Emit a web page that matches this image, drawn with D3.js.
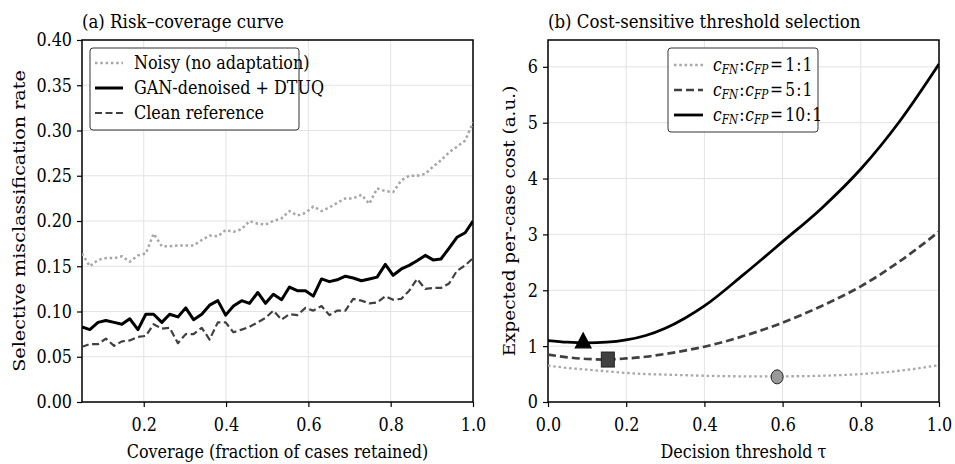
<!DOCTYPE html>
<html><head><meta charset="utf-8">
<script src="https://cdn.jsdelivr.net/npm/d3@7"></script>
<style>body{margin:0;background:#fff}svg{display:block}text{font-family:"DejaVu Serif",serif;fill:#000}</style>
</head><body><svg id="c" width="955" height="464"></svg>
<script>
// ---------- data ----------
const coverage = [0.050,0.069,0.089,0.108,0.128,0.147,0.166,0.186,0.205,0.224,0.244,0.263,0.283,0.302,0.321,0.341,0.360,0.380,0.399,0.418,0.438,0.457,0.477,0.496,0.515,0.535,0.554,0.573,0.593,0.612,0.632,0.651,0.670,0.690,0.709,0.729,0.748,0.767,0.787,0.806,0.826,0.845,0.864,0.884,0.903,0.922,0.942,0.961,0.981,1.000];
const noisyRisk = [0.164,0.150,0.157,0.159,0.159,0.161,0.155,0.162,0.164,0.186,0.172,0.172,0.173,0.173,0.173,0.179,0.184,0.183,0.190,0.188,0.191,0.200,0.197,0.196,0.200,0.203,0.211,0.206,0.209,0.216,0.211,0.215,0.220,0.225,0.225,0.229,0.219,0.236,0.233,0.232,0.245,0.250,0.250,0.252,0.260,0.267,0.276,0.282,0.289,0.309];
const ganRisk = [0.083,0.080,0.088,0.090,0.088,0.086,0.092,0.080,0.097,0.097,0.088,0.097,0.094,0.104,0.091,0.097,0.107,0.112,0.096,0.106,0.112,0.109,0.121,0.109,0.119,0.113,0.127,0.123,0.123,0.117,0.136,0.133,0.135,0.139,0.137,0.134,0.136,0.138,0.152,0.140,0.147,0.151,0.156,0.162,0.157,0.158,0.170,0.182,0.187,0.200];
const cleanRisk = [0.061,0.064,0.064,0.070,0.062,0.067,0.068,0.072,0.073,0.086,0.081,0.082,0.065,0.075,0.075,0.082,0.069,0.088,0.088,0.077,0.080,0.083,0.088,0.093,0.101,0.091,0.097,0.096,0.104,0.101,0.106,0.096,0.101,0.101,0.114,0.112,0.109,0.110,0.117,0.113,0.114,0.123,0.136,0.125,0.126,0.126,0.131,0.145,0.151,0.159];

const tau = [0,0.05,0.1,0.15,0.2,0.25,0.3,0.35,0.4,0.5,0.6,0.7,0.8,0.9,1.0];
const cost1 = [0.65,0.61,0.58,0.55,0.52,0.50,0.49,0.48,0.47,0.46,0.46,0.47,0.50,0.56,0.66];
const cost5 = [0.85,0.80,0.77,0.76,0.78,0.81,0.86,0.92,0.99,1.18,1.42,1.72,2.07,2.52,3.05];
const cost10 = [1.10,1.07,1.06,1.07,1.11,1.19,1.32,1.50,1.72,2.28,2.87,3.47,4.17,5.03,6.05];
const optTau = [0.586,0.153,0.09];
const optCost = [0.45,0.76,1.06];

const leftXTicks = [0.2,0.4,0.6,0.8,1.0];
const leftYTicks = [0,0.05,0.1,0.15,0.2,0.25,0.3,0.35,0.4];
const rightXTicks = [0,0.2,0.4,0.6,0.8,1.0];
const rightYTicks = [0,1,2,3,4,5,6];

// ---------- drawing ----------
const svg = d3.select("#c");
const FS = 16, S = 1.15;

function stretchAt(sel, s){
  s = s || S;
  sel.each(function(){
    const t = d3.select(this);
    const x = +t.attr("x")||0, y = +t.attr("y")||0;
    t.attr("transform",`translate(${x},${y}) scale(1,${s}) translate(${-x},${-y})`);
  });
}

function panel(cfg){
  const g = svg.append("g");
  const x = d3.scaleLinear().domain(cfg.xd).range([cfg.x0,cfg.x1]);
  const y = d3.scaleLinear().domain(cfg.yd).range([cfg.y1,cfg.y0]);
  g.append("g").selectAll("line").data(cfg.xt).join("line")
    .attr("x1",d=>x(d)).attr("x2",d=>x(d)).attr("y1",cfg.y0).attr("y2",cfg.y1)
    .attr("stroke","#e3e3e3").attr("stroke-width",1);
  g.append("g").selectAll("line").data(cfg.yt).join("line")
    .attr("y1",d=>y(d)).attr("y2",d=>y(d)).attr("x1",cfg.x0).attr("x2",cfg.x1)
    .attr("stroke","#e3e3e3").attr("stroke-width",1);
  const ax = g.append("g").attr("transform",`translate(0,${cfg.y1})`)
    .call(d3.axisBottom(x).tickValues(cfg.xt).tickFormat(cfg.xf).tickSize(5).tickPadding(11));
  const ay = g.append("g").attr("transform",`translate(${cfg.x0},0)`)
    .call(d3.axisLeft(y).tickValues(cfg.yt).tickFormat(cfg.yf).tickSize(5).tickPadding(5));
  [ax,ay].forEach(a=>{
    a.select(".domain").remove();
    a.selectAll("line").attr("stroke","#000").attr("stroke-width",1.2);
    a.selectAll("text").attr("font-family","DejaVu Serif").attr("font-size",FS).attr("fill","#000");
  });
  ax.selectAll("text").each(function(){
    const t=d3.select(this); const yy=+t.attr("y");
    t.attr("y",0).attr("transform",`translate(0,${yy}) scale(1,${S})`);
  });
  ay.selectAll("text").attr("transform",`scale(1,${S})`);
  g.append("rect").attr("x",cfg.x0).attr("y",cfg.y0).attr("width",cfg.x1-cfg.x0).attr("height",cfg.y1-cfg.y0)
    .attr("fill","none").attr("stroke","#000").attr("stroke-width",1.5);
  g.append("text").attr("x",cfg.x0).attr("y",28).attr("font-size",16.6).text(cfg.title).call(stretchAt);
  g.append("text").attr("x",(cfg.x0+cfg.x1)/2).attr("y",458).attr("text-anchor","middle").attr("font-size",FS).text(cfg.xlabel).call(stretchAt);
  g.append("text").attr("transform",`translate(${cfg.ylx},${(cfg.y0+cfg.y1)/2}) scale(1,${cfg.ys}) rotate(-90)`)
    .attr("text-anchor","middle").attr("font-size",FS).text(cfg.ylabel);
  const clip = "clip"+cfg.id;
  svg.append("clipPath").attr("id",clip).append("rect").attr("x",cfg.x0).attr("y",cfg.y0).attr("width",cfg.x1-cfg.x0).attr("height",cfg.y1-cfg.y0);
  const plot = g.append("g").attr("clip-path",`url(#${clip})`);
  return {g,x,y,plot};
}

// ---- left panel ----
const L = panel({id:"a",x0:82,x1:473,y0:40,y1:402,xd:[0.05,1.0],yd:[0,0.4],xt:leftXTicks,yt:leftYTicks,
  xf:d3.format(".1f"),yf:d3.format(".2f"),title:"(a) Risk\u2013coverage curve",
  xlabel:"Coverage (fraction of cases retained)",ylabel:"Selective misclassification rate",ylx:25,ys:1.2});
const series = [
  {vals:noisyRisk,stroke:"#a6a6a6",w:2.5,dash:"2.5,2.8",cap:"butt",label:"Noisy (no adaptation)"},
  {vals:ganRisk,stroke:"#000",w:3,dash:null,cap:"butt",label:"GAN-denoised + DTUQ"},
  {vals:cleanRisk,stroke:"#404040",w:2.2,dash:"7,3.5",cap:"butt",label:"Clean reference"}
];
series.forEach(s=>{
  const line = d3.line().x((d,i)=>L.x(coverage[i])).y(d=>L.y(d));
  L.plot.append("path").attr("d",line(s.vals)).attr("fill","none").attr("stroke",s.stroke)
    .attr("stroke-width",s.w).attr("stroke-dasharray",s.dash).attr("stroke-linecap",s.cap).attr("stroke-linejoin","round");
});
const lg = L.g.append("g");
lg.append("rect").attr("x",90).attr("y",48).attr("width",209).attr("height",82).attr("rx",3)
  .attr("fill","#fff").attr("fill-opacity",0.9).attr("stroke","#333").attr("stroke-width",1);
series.forEach((s,i)=>{
  const yy = 63+i*25;
  lg.append("line").attr("x1",95).attr("x2",123).attr("y1",yy).attr("y2",yy).attr("stroke",s.stroke)
    .attr("stroke-width",s.w).attr("stroke-dasharray",s.dash).attr("stroke-linecap",s.cap);
  lg.append("text").attr("x",134).attr("y",yy+6).attr("font-size",FS).text(s.label).call(stretchAt);
});

// ---- right panel ----
const R = panel({id:"b",x0:548,x1:939,y0:40,y1:402,xd:[0,1],yd:[0,6.48],xt:rightXTicks,yt:rightYTicks,
  xf:d3.format(".1f"),yf:d3.format("d"),title:"(b) Cost-sensitive threshold selection",
  xlabel:"Decision threshold \u03c4",ylabel:"Expected per-case cost (a.u.)",ylx:515,ys:1.15});
const costs = [
  {vals:cost1,stroke:"#a8a8a8",w:2.3,dash:"2.5,2.8",cap:"butt",ratio:"1",marker:"circle",fill:"#999"},
  {vals:cost5,stroke:"#404040",w:2.7,dash:"8,4",cap:"butt",ratio:"5",marker:"square",fill:"#404040"},
  {vals:cost10,stroke:"#000",w:2.8,dash:null,cap:"butt",ratio:"10",marker:"triangle",fill:"#000"}
];
costs.forEach(s=>{
  const line = d3.line().x((d,i)=>R.x(tau[i])).y(d=>R.y(d)).curve(d3.curveMonotoneX);
  R.plot.append("path").attr("d",line(s.vals)).attr("fill","none").attr("stroke",s.stroke)
    .attr("stroke-width",s.w).attr("stroke-dasharray",s.dash).attr("stroke-linecap",s.cap);
});
costs.forEach((s,i)=>{
  const cx = R.x(optTau[i]), cy = R.y(optCost[i]);
  if(s.marker==="circle"){
    R.g.append("ellipse").attr("cx",cx).attr("cy",cy).attr("rx",6).attr("ry",7).attr("fill",s.fill).attr("stroke","#222").attr("stroke-width",1);
  } else if(s.marker==="square"){
    R.g.append("rect").attr("x",cx-6.5).attr("y",cy-7.5).attr("width",13).attr("height",15).attr("fill",s.fill).attr("stroke","#222").attr("stroke-width",1);
  } else {
    R.g.append("path").attr("d",d3.symbol(d3.symbolTriangle,110)()).attr("transform",`translate(${cx},${cy}) scale(1,1.1)`)
      .attr("fill",s.fill).attr("stroke","#000").attr("stroke-width",1);
  }
});
const rg = R.g.append("g");
rg.append("rect").attr("x",668).attr("y",48).attr("width",150).attr("height",84).attr("rx",3)
  .attr("fill","#fff").attr("fill-opacity",0.9).attr("stroke","#333").attr("stroke-width",1);
costs.forEach((s,i)=>{
  const yy = 65+i*25;
  rg.append("line").attr("x1",674).attr("x2",703).attr("y1",yy).attr("y2",yy).attr("stroke",s.stroke)
    .attr("stroke-width",s.w).attr("stroke-dasharray",s.dash).attr("stroke-linecap",s.cap);
  const t = rg.append("text").attr("x",713).attr("y",yy+6).attr("font-size",15.5).attr("font-family","DejaVu Sans");
  t.append("tspan").attr("font-style","italic").text("c");
  t.append("tspan").attr("font-style","italic").attr("font-size",10.5).attr("dy",3).text("FN");
  t.append("tspan").attr("dy",-3).attr("dx",1).text(":");
  t.append("tspan").attr("font-style","italic").attr("dx",1).text("c");
  t.append("tspan").attr("font-style","italic").attr("font-size",10.5).attr("dy",3).text("FP");
  t.append("tspan").attr("dy",-3).attr("dx",1.5).text("=");
  t.append("tspan").attr("dx",2.5).text(s.ratio);
  t.append("tspan").attr("dx",1).text(":");
  t.append("tspan").attr("dx",1).text("1");
  t.call(stretchAt);
});
</script></body></html>
